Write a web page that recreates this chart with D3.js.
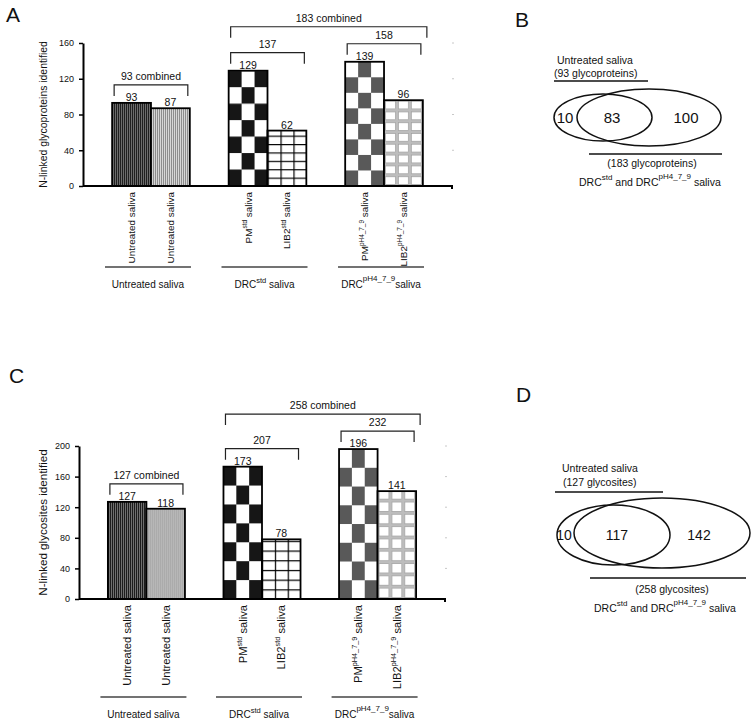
<!DOCTYPE html>
<html><head><meta charset="utf-8">
<script src="https://cdn.jsdelivr.net/npm/d3@7"></script>
<style>
body{margin:0;background:#fff}
svg{display:block}
text{font-family:"Liberation Sans",Arial,sans-serif;fill:#111}
</style></head>
<body><svg id="chart" width="756" height="725"></svg>
<script>
// ---------------- data ----------------
const groups = ["Untreated saliva", "DRC std saliva", "DRC pH4_7_9 saliva"];
const groupBase = ["Untreated saliva", "DRC", "DRC"];
const groupSup = ["", "std", "pH4_7_9"];
const groupSuffix = ["", " saliva", "saliva"];

const barGroup = [0, 0, 1, 1, 2, 2];
const barSlot = [0, 1, 0, 1, 0, 1];
const barBase = ["Untreated", "Untreated", "PM", "LIB2", "PM", "LIB2"];
const barSup = ["", "", "std", "std", "pH4_7_9", "pH4_7_9"];
const barSuffix = [" saliva", " saliva", " saliva", " saliva", " saliva", " saliva"];
const barPattern = ["darkStripe", "lightStripe", "blackChecker", "blackGrid", "greyChecker", "greyGrid"];

const glycoproteinCounts = [93, 87, 129, 62, 139, 96];
const glycositeCounts = [127, 118, 173, 78, 196, 141];
const proteinTicks = [0, 40, 80, 120, 160];
const siteTicks = [0, 40, 80, 120, 160, 200];

// [label, first bar, last bar]
const proteinBrackets = [["93 combined", 0, 1], ["137", 2, 3], ["158", 4, 5], ["183 combined", 2, 5]];
const siteBrackets = [["127 combined", 0, 1], ["207", 2, 3], ["232", 4, 5], ["258 combined", 2, 5]];

// Venn: [only untreated, shared, only DRC]
const vennProteins = [10, 83, 100];
const vennProteinTotals = [93, 183];
const vennSites = [10, 117, 142];
const vennSiteTotals = [127, 258];

// ---------------- drawing ----------------
const svg = d3.select("#chart");
const defs = svg.append("defs");

function checker(id, color, w, h, tx, ty) {
  const p = defs.append("pattern").attr("id", id).attr("patternUnits", "userSpaceOnUse")
    .attr("width", 2 * w).attr("height", 2 * h).attr("patternTransform", `translate(${tx},${ty})`);
  p.append("rect").attr("width", 2 * w).attr("height", 2 * h).attr("fill", "#fff");
  p.append("rect").attr("x", 0).attr("y", h).attr("width", w).attr("height", h).attr("fill", color);
  p.append("rect").attr("x", w).attr("y", 0).attr("width", w).attr("height", h).attr("fill", color);
}
function grid(id, w, h, tx, ty) {
  const p = defs.append("pattern").attr("id", id).attr("patternUnits", "userSpaceOnUse")
    .attr("width", w).attr("height", h).attr("patternTransform", `translate(${tx},${ty})`);
  p.append("rect").attr("width", w).attr("height", h).attr("fill", "#fff");
  p.append("path").attr("d", `M0,0H${w}M0,0V${h}`).attr("stroke", "#000").attr("stroke-width", 2.4).attr("fill", "none");
}
function greyGrid(id, w, h, tx, ty) {
  const p = defs.append("pattern").attr("id", id).attr("patternUnits", "userSpaceOnUse")
    .attr("width", w).attr("height", h).attr("patternTransform", `translate(${tx},${ty})`);
  p.append("rect").attr("width", w).attr("height", h).attr("fill", "#bdbdbd");
  p.append("rect").attr("x", 1.6).attr("y", 1.6).attr("width", w - 3.2).attr("height", h - 3.2)
    .attr("fill", "#fff").attr("stroke", "#9a9a9a").attr("stroke-width", 0.6);
}
function stripes(id, c1, c2, tx) {
  const p = defs.append("pattern").attr("id", id).attr("patternUnits", "userSpaceOnUse")
    .attr("width", 2).attr("height", 4).attr("patternTransform", `translate(${tx},0)`);
  p.append("rect").attr("width", 2).attr("height", 4).attr("fill", c2);
  p.append("rect").attr("width", 1).attr("height", 4).attr("fill", c1);
}

function supText(sel, base, sup, suffix, supSize, shift) {
  sel.append("tspan").text(base);
  if (sup) {
    sel.append("tspan").attr("font-size", supSize).attr("dy", -shift).text(sup);
    sel.append("tspan").attr("dy", shift).text(suffix);
  } else if (suffix) {
    sel.append("tspan").text(suffix);
  }
}

function drawPanel(cfg) {
  const g = svg.append("g");
  const vals = cfg.values;
  const y = d3.scaleLinear().domain([0, cfg.max]).range([cfg.y0, cfg.yTop]);
  const xg = d3.scaleBand().domain(d3.range(groups.length)).range([cfg.xLeft, cfg.xRight])
    .paddingInner(1 / 3).paddingOuter(0.25);
  const xb = d3.scaleBand().domain([0, 1]).range([0, xg.bandwidth()]);
  const bw = xb.bandwidth();
  const barX = i => xg(barGroup[i]) + xb(barSlot[i]);

  g.append("text").attr("x", cfg.letterX).attr("y", cfg.letterY).attr("font-size", 21).text(cfg.letter);

  vals.forEach((v, i) => {
    const id = cfg.letter + "p" + i, bx = barX(i), kind = barPattern[i];
    const hgt = cfg.y0 - y(v);
    if (kind === "darkStripe") stripes(id, "#111", "#7a7a7a", bx);
    else if (kind === "lightStripe") stripes(id, "#8a8a8a", "#d8d8d8", bx);
    else if (kind === "blackChecker" || kind === "greyChecker") {
      const rows = Math.max(1, Math.round(hgt / cfg.checkH));
      checker(id, kind === "blackChecker" ? "#161616" : "#595959", bw / 3, hgt / rows, bx, cfg.y0);
    } else if (kind === "blackGrid") grid(id, bw / 3, cfg.gridH, bx, cfg.y0);
    else greyGrid(id, bw / 3, cfg.pgridH, bx, cfg.y0);
  });

  g.selectAll("line.faint").data(cfg.ticks.slice(1)).join("line").attr("class", "faint")
    .attr("x1", cfg.xRight).attr("x2", cfg.xRight + 2).attr("y1", d => y(d)).attr("y2", d => y(d))
    .attr("stroke", "#c8c8c8").attr("stroke-width", 1);

  g.selectAll("rect.bar").data(vals).join("rect").attr("class", "bar")
    .attr("x", (d, i) => barX(i)).attr("y", d => y(d))
    .attr("width", bw).attr("height", d => cfg.y0 - y(d))
    .attr("fill", (d, i) => `url(#${cfg.letter}p${i})`)
    .attr("stroke", "#000").attr("stroke-width", 1.8);

  g.selectAll("text.val").data(vals).join("text").attr("class", "val")
    .attr("x", (d, i) => barX(i) + bw / 2).attr("y", d => y(d) - 2)
    .attr("text-anchor", "middle").attr("font-size", cfg.valueSize).text(d => d);

  const ya = g.append("g").attr("transform", `translate(${cfg.xLeft},0)`)
    .call(d3.axisLeft(y).tickValues(cfg.ticks).tickSize(4).tickSizeOuter(0).tickPadding(5));
  ya.select(".domain").attr("stroke-width", 2).attr("stroke", "#000");
  ya.selectAll(".tick line").attr("stroke-width", 1.5);
  ya.selectAll(".tick text").attr("font-size", cfg.tickFont).attr("font-family", "Liberation Sans, Arial, sans-serif").attr("fill", "#222");

  g.append("path").attr("d", `M${cfg.xLeft},${cfg.y0}H${cfg.xRight}V${cfg.y0 + 3}`)
    .attr("stroke", "#000").attr("stroke-width", 2).attr("fill", "none");

  g.append("text").attr("transform", `translate(${cfg.titleX},${(cfg.y0 + cfg.yTop) / 2}) rotate(-90)`)
    .attr("text-anchor", "middle").attr("font-size", cfg.titleSize).text(cfg.title);

  vals.forEach((v, i) => {
    const t = g.append("text")
      .attr("transform", `translate(${barX(i) + bw / 2},${cfg.labelStartY}) rotate(-90)`)
      .attr("text-anchor", "end").attr("dy", "0.35em").attr("font-size", cfg.labelSize);
    supText(t, barBase[i], barSup[i], barSuffix[i], cfg.labelSize * 0.65, cfg.labelSize * 0.45);
  });

  groups.forEach((gr, k) => {
    const cx = xg(k) + xg.bandwidth() / 2 - 3;
    g.append("line").attr("x1", cx - 43).attr("x2", cx + 43).attr("y1", cfg.groupLineY).attr("y2", cfg.groupLineY)
      .attr("stroke", "#444").attr("stroke-width", 1.4);
    const t = g.append("text").attr("x", cx).attr("y", cfg.groupLabelY).attr("text-anchor", "middle").attr("font-size", 10);
    supText(t, groupBase[k], groupSup[k], groupSuffix[k], k === 2 ? 8 : 7.5, k === 2 ? 7 : 5);
  });

  const ys = {};
  const simple = cfg.brackets.filter(b => b[2] - b[1] === 1);
  const combined = cfg.brackets.filter(b => b[2] - b[1] > 1);
  simple.forEach(b => { ys[b[0]] = y(Math.max(vals[b[1]], vals[b[2]])) - 18; });
  combined.forEach(b => {
    const inner = simple.filter(s => s[1] >= b[1] && s[2] <= b[2]).map(s => ys[s[0]]);
    ys[b[0]] = d3.min(inner) - 17;
  });
  cfg.brackets.forEach(b => {
    const by = ys[b[0]];
    const x1 = barX(b[1]) + 2;
    const x2 = barX(b[2]) + bw + (b[2] - b[1] > 1 ? 4 : -2);
    g.append("path").attr("d", `M${x1},${by + 11}V${by}H${x2}V${by + 11}`)
      .attr("fill", "none").attr("stroke", "#222").attr("stroke-width", 1.2);
    g.append("text").attr("x", (x1 + x2) / 2).attr("y", by - 5).attr("text-anchor", "middle")
      .attr("font-size", cfg.valueSize).text(b[0]);
  });
}

drawPanel({
  letter: "A", letterX: 6, letterY: 22,
  values: glycoproteinCounts, brackets: proteinBrackets, ticks: proteinTicks,
  max: 160, y0: 186, yTop: 43, xLeft: 83, xRight: 452,
  title: "N-linked glycoproteins identified", titleX: 47, titleSize: 10.4,
  tickFont: 9, labelSize: 9.9, valueSize: 10.5,
  labelStartY: 192, groupLineY: 267, groupLabelY: 288,
  checkH: 16, gridH: 8.4, pgridH: 10.8
});
drawPanel({
  letter: "C", letterX: 9, letterY: 383,
  values: glycositeCounts, brackets: siteBrackets, ticks: siteTicks,
  max: 200, y0: 599, yTop: 446, xLeft: 79, xRight: 445,
  title: "N-linked glycosites identified", titleX: 47, titleSize: 11.6,
  tickFont: 9, labelSize: 11.2, valueSize: 10.5,
  labelStartY: 605, groupLineY: 697, groupLabelY: 718,
  checkH: 18.8, gridH: 9.7, pgridH: 12.3
});

function drawVenn(cfg) {
  const g = svg.append("g");
  g.append("text").attr("x", cfg.letterX).attr("y", cfg.letterY).attr("font-size", 21).text(cfg.letter);
  g.append("text").attr("x", cfg.topX).attr("y", cfg.topY1).attr("font-size", cfg.fs).text("Untreated saliva");
  g.append("text").attr("x", cfg.topX2).attr("y", cfg.topY2).attr("font-size", cfg.fs)
    .text(`(${cfg.totals[0]} ${cfg.unit})`);
  g.append("line").attr("x1", cfg.topLine[0]).attr("x2", cfg.topLine[1]).attr("y1", cfg.topLine[2]).attr("y2", cfg.topLine[2])
    .attr("stroke", "#111").attr("stroke-width", 1.3);
  [cfg.small, cfg.large].forEach(e => {
    g.append("ellipse").attr("cx", e[0]).attr("cy", e[1]).attr("rx", e[2]).attr("ry", e[3])
      .attr("fill", "none").attr("stroke", "#111").attr("stroke-width", 1.5);
  });
  cfg.counts.forEach((c, i) => {
    g.append("text").attr("x", cfg.numX[i]).attr("y", cfg.numY).attr("text-anchor", "middle")
      .attr("font-size", cfg.numSize).text(c);
  });
  g.append("line").attr("x1", cfg.botLine[0]).attr("x2", cfg.botLine[1]).attr("y1", cfg.botLine[2]).attr("y2", cfg.botLine[2])
    .attr("stroke", "#111").attr("stroke-width", 1.3);
  g.append("text").attr("x", cfg.botX).attr("y", cfg.botY1).attr("text-anchor", "middle").attr("font-size", cfg.fs)
    .text(`(${cfg.totals[1]} ${cfg.unit})`);
  const t = g.append("text").attr("x", cfg.drcX).attr("y", cfg.botY2).attr("font-size", cfg.fs);
  t.append("tspan").text("DRC");
  t.append("tspan").attr("font-size", 8).attr("dy", -6).text("std");
  t.append("tspan").attr("dy", 6).text(" and  DRC");
  t.append("tspan").attr("font-size", 8).attr("dy", -7).text("pH4_7_9");
  t.append("tspan").attr("dy", 7).text("  saliva");
}

drawVenn({
  letter: "B", letterX: 515, letterY: 27, fs: 10.5, unit: "glycoproteins",
  counts: vennProteins, totals: vennProteinTotals,
  topX: 557, topY1: 64, topX2: 554, topY2: 77, topLine: [554, 648, 81],
  small: [603, 117.5, 49, 23.5], large: [649, 117.5, 72, 28.5],
  numX: [565, 612, 686], numY: 122.5, numSize: 15,
  botLine: [589, 722, 154], botX: 652, botY1: 167, drcX: 579, botY2: 186
});
drawVenn({
  letter: "D", letterX: 516, letterY: 402, fs: 10.5, unit: "glycosites",
  counts: vennSites, totals: vennSiteTotals,
  topX: 562, topY1: 472, topX2: 563, topY2: 486, topLine: [555, 663, 492],
  small: [613.5, 535, 56.5, 30], large: [662, 533, 88, 35],
  numX: [564, 617, 699], numY: 540, numSize: 14,
  botLine: [590, 746, 578], botX: 672, botY1: 593, drcX: 594, botY2: 612
});
</script></body></html>
